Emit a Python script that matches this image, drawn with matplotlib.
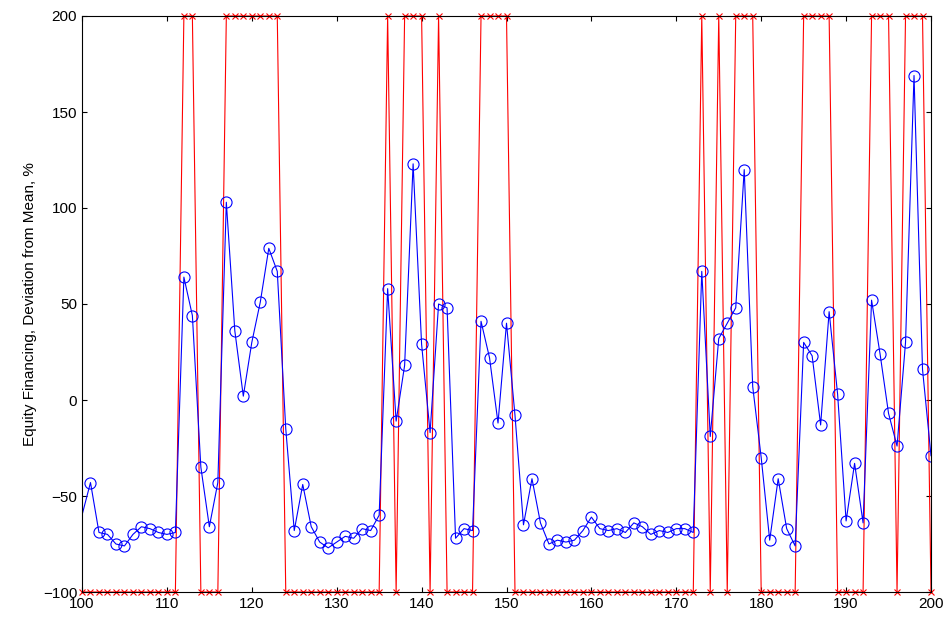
import matplotlib
matplotlib.use("Agg")
import matplotlib.pyplot as plt
import numpy as np

x = list(range(100, 201))
blue = [-60, -43, -69, -70, -75, -76, -70, -66, -67, -69, -70, -69, 64, 44, -35, -66, -43, 103, 36, 2,
        30, 51, 79, 67, -15, -68, -44, -66, -74, -77, -74, -71, -72, -67, -68, -60, 58, -11, 18, 123,
        29, -17, 50, 48, -72, -67, -68, 41, 22, -12, 40, -8, -65, -41, -64, -75, -73, -74, -73, -68,
        -61, -67, -68, -67, -69, -64, -66, -70, -68, -69, -67, -67, -69, 67, -19, 32, 40, 48, 120, 7,
        -30, -73, -41, -67, -76, 30, 23, -13, 46, 3, -63, -33, -64, 52, 24, -7, -24, 30, 169, 16, -29]
high = [112, 113, 117, 118, 119, 120, 121, 122, 123, 136, 138, 139, 140, 142, 147, 148, 149, 150,
        173, 175, 177, 178, 179, 185, 186, 187, 188, 193, 194, 195, 197, 198, 199]
red = [200 if v in high else -100 for v in x]

plt.rcParams['font.family'] = ['Liberation Sans', 'DejaVu Sans']
fig = plt.figure(figsize=(9.46, 6.18), dpi=100)
ax = fig.add_axes([82/946, 26/618, 849/946, 576/618])
ax.plot(x, red, color='red', lw=0.8, marker='x', ms=5, mew=0.8, clip_on=False)
ax.plot(x, blue, color='blue', lw=0.8, marker='o', ms=8, mfc='none', mew=0.8,
        markevery=list(range(1, len(x))))
ax.set_xlim(100, 200)
ax.set_ylim(-100, 200)
ax.set_xticks(range(100, 201, 10))
ax.set_yticks(range(-100, 201, 50))
ax.tick_params(direction='in', labelsize=11, top=True, right=True)
ax.set_ylabel('Equity Financing, Deviation from Mean, %', fontsize=11)
fig.savefig('out.png')
